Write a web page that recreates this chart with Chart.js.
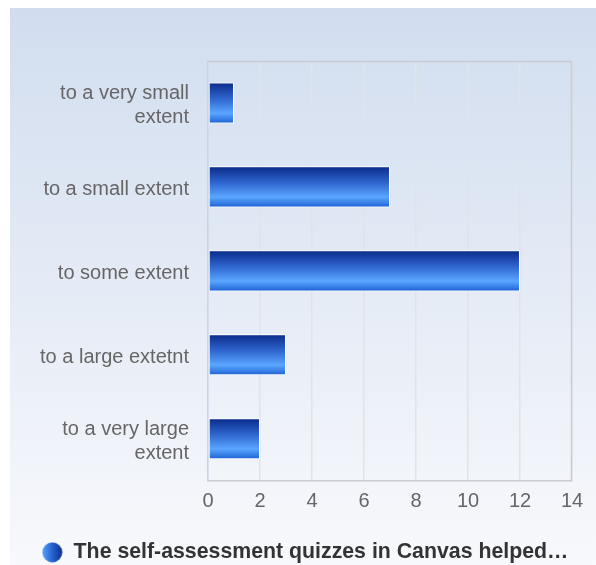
<!DOCTYPE html>
<html>
<head>
<meta charset="utf-8">
<script src="https://cdn.jsdelivr.net/npm/chart.js@4"></script>
<style>
  html, body { margin: 0; padding: 0; background: #ffffff; }
  #wrap { width: 596px; height: 565px; }
</style>
</head>
<body>
<div id="wrap"><canvas id="chart" width="596" height="565"></canvas></div>
<script>
// categories and values
const categories = [
	["to a very small", "extent"],
	"to a small extent",
	"to some extent",
	"to a large extetnt",
	["to a very large", "extent"],
];
const counts = [1, 7, 12, 3, 2];
const seriesName = "The self-assessment quizzes in Canvas helped\u2026";
const xTicks = [0, 2, 4, 6, 8, 10, 12, 14];

const FONT = "'Liberation Sans', Arial, sans-serif";

// gradient circle for the legend
const legendDot = document.createElement("canvas");
legendDot.width = 21;
legendDot.height = 21;
(function () {
	const c = legendDot.getContext("2d");
	const g = c.createLinearGradient(0, 0, 21, 0);
	g.addColorStop(0, "#5aa6ff");
	g.addColorStop(0.45, "#2a6ad8");
	g.addColorStop(1, "#0b2a8a");
	c.fillStyle = g;
	c.beginPath();
	c.arc(10.5, 10.5, 10, 0, Math.PI * 2);
	c.fill();
})();

// panel background + plot frame
const panelBg = {
	id: "panelBg",
	beforeDraw(chart) {
		const ctx = chart.ctx;
		const g = ctx.createLinearGradient(0, 8, 0, 565);
		g.addColorStop(0, "#d1ddef");
		g.addColorStop(1, "#f8f9fc");
		ctx.save();
		ctx.fillStyle = g;
		ctx.fillRect(10, 8, 586, 557);
		ctx.restore();
	},
	afterDraw(chart) {
		const a = chart.chartArea;
		const ctx = chart.ctx;
		ctx.save();
		ctx.strokeStyle = "#c9ccd2";
		ctx.lineWidth = 1.5;
		ctx.beginPath();
		ctx.moveTo(a.left, a.top + 0.5);
		ctx.lineTo(a.right - 0.5, a.top + 0.5);
		ctx.lineTo(a.right - 0.5, a.bottom);
		ctx.stroke();
		ctx.restore();
	},
};

function barFill(context) {
	const chart = context.chart;
	const y = chart.scales.y;
	if (!chart.chartArea || !y) return "#2a6ad8";
	const center = y.getPixelForValue(context.dataIndex);
	const half = (chart.chartArea.height / categories.length) * 0.49 / 2;
	const g = chart.ctx.createLinearGradient(0, center - half, 0, center + half);
	g.addColorStop(0, "#0a2a88");
	g.addColorStop(0.4, "#2f66cf");
	g.addColorStop(0.75, "#5aa6ff");
	g.addColorStop(1, "#1c60d2");
	return g;
}

new Chart(document.getElementById("chart"), {
	type: "bar",
	plugins: [panelBg],
	data: {
		labels: categories,
		datasets: [
			{
				label: seriesName,
				data: counts,
				backgroundColor: barFill,
				borderColor: "#ffffff",
				borderWidth: 1,
				borderSkipped: false,
				categoryPercentage: 1,
				barPercentage: 0.49,
			},
		],
	},
	options: {
		indexAxis: "y",
		responsive: false,
		animation: false,
		layout: { padding: { top: 61, right: 24, left: 38, bottom: -8 } },
		scales: {
			x: {
				min: 0,
				max: 14,
				afterBuildTicks(scale) {
					scale.ticks = xTicks.map((v) => ({ value: v }));
				},
				afterFit(scale) {
					scale.height = 58;
				},
				grid: { color: "#e1e3e8", lineWidth: 1.5, drawTicks: false },
				border: { color: "#c9ccd2", width: 1.5 },
				ticks: {
					color: "#666666",
					padding: 9,
					maxRotation: 0,
					font: { family: FONT, size: 20 },
				},
			},
			y: {
				afterFit(scale) {
					scale.width = 170;
				},
				grid: { display: false, drawTicks: false },
				border: { color: "#c8d4ea", width: 1.5 },
				ticks: {
					color: "#666666",
					padding: 19,
					labelOffset: 3,
					font: { family: FONT, size: 20, lineHeight: 1.2 },
				},
			},
		},
		plugins: {
			tooltip: { enabled: false },
			legend: {
				position: "bottom",
				labels: {
					usePointStyle: true,
					pointStyle: legendDot,
					boxHeight: 20,
					padding: 3,
					color: "#333333",
					font: { family: FONT, size: 21.3, weight: "bold", lineHeight: 1 },
				},
			},
		},
	},
});
</script>
</body>
</html>
